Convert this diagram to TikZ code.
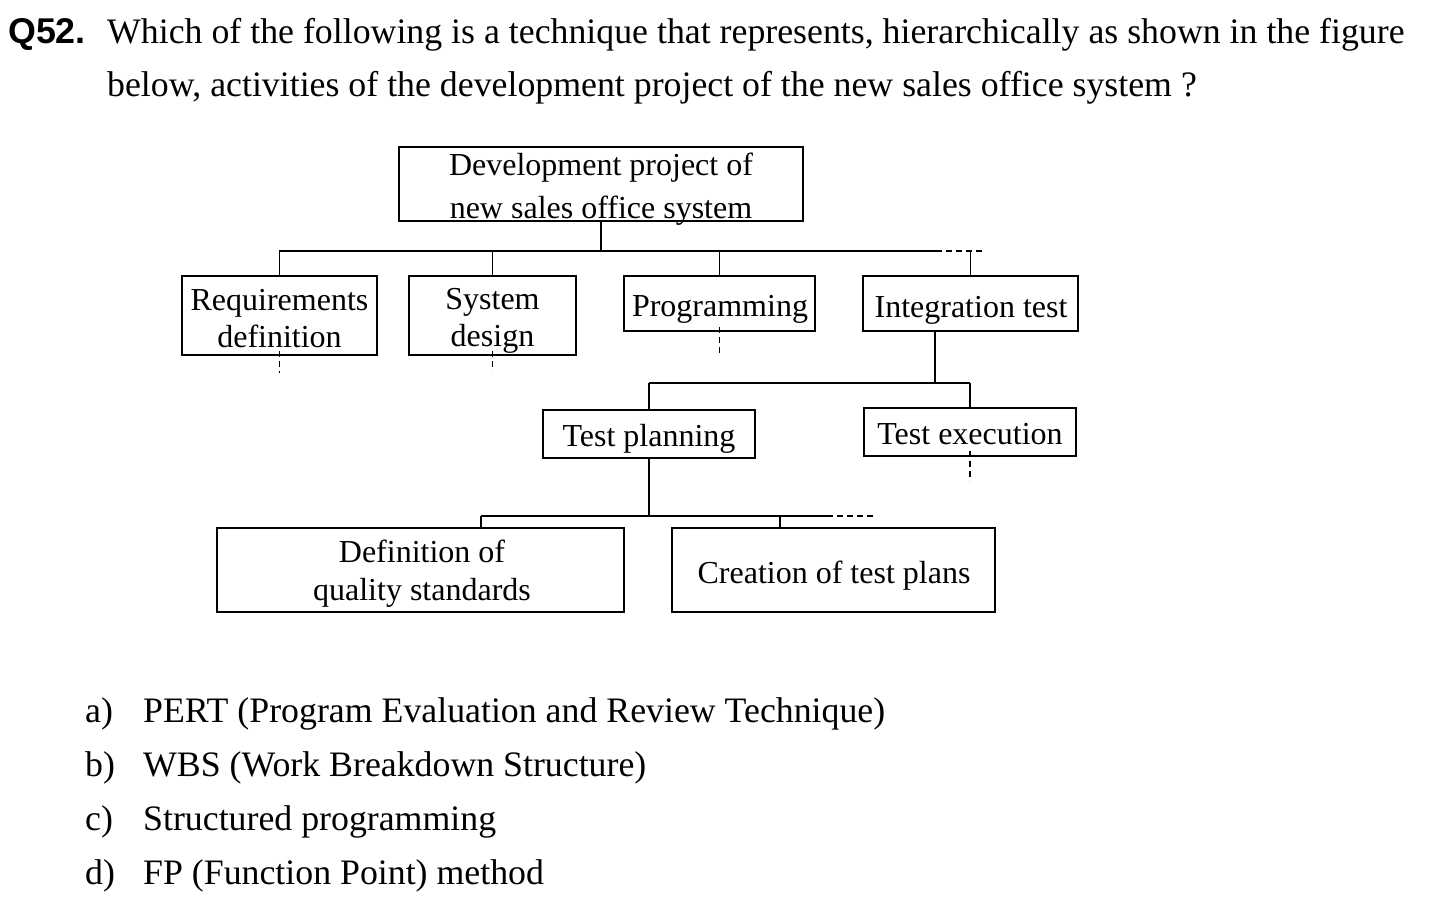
\documentclass[tikz,border=0pt]{standalone}
\usepackage{fontspec}
\setmainfont{Liberation Serif}
\newfontfamily\qfont{Liberation Sans}
\begin{document}
\begin{tikzpicture}[x=1pt,y=-1pt,
  box/.style={draw, line width=1.8pt, inner sep=0pt},
  lbl/.style={anchor=base, inner sep=0pt, font=\fontsize{32}{38}\selectfont},
  qtxt/.style={anchor=base west, inner sep=0pt, font=\fontsize{35.8}{53}\selectfont},
  link/.style={line width=1.8pt},
  dashlink/.style={line width=1.8pt, dash pattern=on 6pt off 4pt}]
\useasboundingbox (0,0) rectangle (1450,922);
\fill[white] (0,0) rectangle (1450,922);

% question
\node[qtxt] (qnum) at (8,43) {\qfont\bfseries Q52.};
\node[qtxt] (q1) at (107,43) {Which of the following is a technique that represents, hierarchically as shown in the figure};
\node[qtxt] (q2) at (107,96) {below, activities of the development project of the new sales office system ?};

% boxes
\node[box, minimum width=404pt, minimum height=74pt] (top) at (601,184) {};
\node[lbl] (topa) at (601,175) {Development project of};
\node[lbl] (topb) at (601,218) {new sales office system};

\node[box, minimum width=195pt, minimum height=79pt] (req) at (279.5,315.5) {};
\node[lbl] (reqa) at (279.5,310) {Requirements};
\node[lbl] (reqb) at (279.5,347) {definition};

\node[box, minimum width=167pt, minimum height=79pt] (sys) at (492.5,315.5) {};
\node[lbl] (sysa) at (492.5,309) {System};
\node[lbl] (sysb) at (492.5,346) {design};

\node[box, minimum width=191pt, minimum height=55pt] (prog) at (719.5,303.5) {};
\node[lbl] (proga) at (720,316) {Programming};

\node[box, minimum width=215pt, minimum height=55pt] (integ) at (970.5,303.5) {};
\node[lbl] (intega) at (971,317) {Integration test};

\node[box, minimum width=212pt, minimum height=48pt] (tplan) at (649,434) {};
\node[lbl] (tplana) at (649,446) {Test planning};

\node[box, minimum width=212pt, minimum height=48pt] (texec) at (970,432) {};
\node[lbl] (texeca) at (970,444) {Test execution};

\node[box, minimum width=407pt, minimum height=84pt] (qual) at (420.5,570) {};
\node[lbl] (quala) at (422,562) {Definition of};
\node[lbl] (qualb) at (422,600) {quality standards};

\node[box, minimum width=323pt, minimum height=84pt] (crea) at (833.5,570) {};
\node[lbl] (creaa) at (834,583) {Creation of test plans};

% level 1 connectors
\coordinate (b1l) at (279,251);
\coordinate (b1r) at (936,251);
\coordinate (b1d) at (985,251);
\draw[link] (top.south) -- (top.south |- b1l);
\draw[link] (b1l) -- (b1r);
\draw[dashlink] (b1r) -- (b1d);
\draw[link] (req.north |- b1l) -- (req.north);
\draw[link] (sys.north |- b1l) -- (sys.north);
\draw[link] (prog.north |- b1l) -- (prog.north);
\draw[link] (integ.north |- b1l) -- (integ.north);

% dashed continuations
\draw[dashlink] ([yshift=5pt]req.south) -- ++(0,22);
\draw[dashlink] ([yshift=5pt]sys.south) -- ++(0,20);
\draw[dashlink] ([yshift=5pt]prog.south) -- ++(0,26);
\draw[dashlink] ([yshift=6pt]texec.south) -- ++(0,30);

% level 2 connectors
\coordinate (i2) at (935,331);
\coordinate (b2l) at (649,383);
\coordinate (b2r) at (970,383);
\draw[link] (i2) -- (i2 |- b2l);
\draw[link] (b2l) -- (b2r);
\draw[link] (b2l) -- (tplan.north);
\draw[link] (b2r) -- (texec.north);

% level 3 connectors
\coordinate (b3l) at (481,516);
\coordinate (b3r) at (827,516);
\coordinate (b3d) at (876,516);
\draw[link] (tplan.south) -- (tplan.south |- b3l);
\draw[link] (b3l) -- (b3r);
\draw[dashlink] (b3r) -- (b3d);
\draw[link] (b3l) -- (b3l |- qual.north);
\draw[link] (780,516) -- (780,528);

% options
\node[qtxt] (oa) at (85,722) {a)};
\node[qtxt] (ta) at (143,722) {PERT (Program Evaluation and Review Technique)};
\node[qtxt] (ob) at (85,776) {b)};
\node[qtxt] (tb) at (143,776) {WBS (Work Breakdown Structure)};
\node[qtxt] (oc) at (85,830) {c)};
\node[qtxt] (tc) at (143,830) {Structured programming};
\node[qtxt] (od) at (85,884) {d)};
\node[qtxt] (td) at (143,884) {FP (Function Point) method};
\end{tikzpicture}
\end{document}
